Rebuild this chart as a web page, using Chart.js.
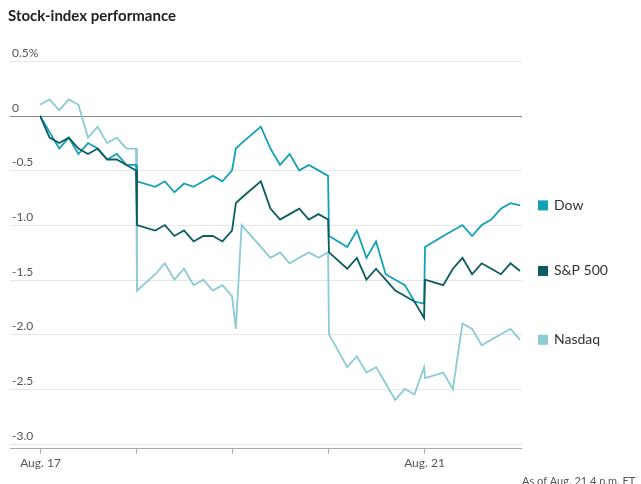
<!DOCTYPE html>
<html><head><meta charset="utf-8">
<script src="https://cdn.jsdelivr.net/npm/chart.js@4"></script>
<style>body{margin:0;background:#fff}canvas{display:block}</style>
</head><body>
<canvas id="c" width="641" height="484"></canvas>
<script>
// time in session units from Aug. 17 open (boundaries at 1, 2, 3, 4)
const times = [0,0.1,0.2,0.3,0.4,0.5,0.6,0.7,0.8,0.9,
  1.0,1.01,1.2,1.3,1.4,1.5,1.6,1.7,1.8,1.9,
  2.0,2.04,2.1,2.3,2.4,2.5,2.6,2.7,2.8,2.9,
  3.0,3.01,3.2,3.3,3.4,3.5,3.6,3.7,3.8,3.9,
  4.0,4.01,4.2,4.3,4.4,4.5,4.6,4.7,4.8,4.9,5.0];
const dow = [0,-0.15,-0.3,-0.2,-0.35,-0.25,-0.3,-0.4,-0.35,-0.45,
  -0.45,-0.6,-0.65,-0.6,-0.7,-0.62,-0.65,-0.6,-0.55,-0.6,
  -0.5,-0.3,-0.25,-0.1,-0.3,-0.45,-0.35,-0.5,-0.45,-0.5,
  -0.55,-1.1,-1.2,-1.05,-1.3,-1.15,-1.45,-1.5,-1.55,-1.7,
  -1.72,-1.2,-1.1,-1.05,-1.0,-1.1,-1.0,-0.95,-0.85,-0.8,-0.82];
const sp500 = [0,-0.2,-0.25,-0.2,-0.3,-0.35,-0.3,-0.4,-0.4,-0.45,
  -0.5,-1.0,-1.05,-1.0,-1.1,-1.05,-1.15,-1.1,-1.1,-1.15,
  -1.05,-0.8,-0.75,-0.6,-0.85,-0.95,-0.9,-0.85,-0.95,-0.9,
  -0.95,-1.25,-1.4,-1.3,-1.5,-1.4,-1.5,-1.6,-1.65,-1.7,
  -1.85,-1.5,-1.55,-1.4,-1.3,-1.45,-1.35,-1.4,-1.45,-1.35,-1.42];
const nasdaq = [0.1,0.15,0.05,0.15,0.1,-0.2,-0.1,-0.25,-0.2,-0.3,
  -0.3,-1.6,-1.45,-1.35,-1.5,-1.4,-1.55,-1.5,-1.6,-1.55,
  -1.65,-1.95,-1.0,-1.2,-1.3,-1.25,-1.35,-1.3,-1.25,-1.3,
  -1.25,-2.0,-2.3,-2.2,-2.35,-2.3,-2.45,-2.6,-2.5,-2.55,
  -2.3,-2.4,-2.35,-2.5,-1.9,-1.95,-2.1,-2.05,-2.0,-1.95,-2.05];
const yTicks = [0.5, 0, -0.5, -1.0, -1.5, -2.0, -2.5, -3.0];
const yLabels = ['0.5%', '0', '-0.5', '-1.0', '-1.5', '-2.0', '-2.5', '-3.0'];
const xTicks = [0, 1, 2, 3, 4];
const xLabels = ['Aug. 17', '', '', '', 'Aug. 21'];
const names = ['Dow', 'S&P 500', 'Nasdaq'];
const colors = ['#12a1b6', '#0b5c60', '#8ccad6'];

const font = '"Lato", "Noto Sans", sans-serif';

const decor = {
  id: 'decor',
  beforeDatasetsDraw(chart) {
    const { ctx, chartArea: a, scales: { x, y } } = chart;
    ctx.save();
    ctx.font = '12px ' + font;
    ctx.textBaseline = 'bottom';
    yTicks.forEach((v, i) => {
      const py = Math.round(y.getPixelForValue(v)) + 0.5;
      ctx.strokeStyle = v === 0 ? '#888' : '#e6e6e6';
      ctx.lineWidth = 1;
      ctx.beginPath(); ctx.moveTo(10, py); ctx.lineTo(a.right, py); ctx.stroke();
      ctx.fillStyle = '#555';
      ctx.fillText(yLabels[i], 12, py - 2);
    });
    // bottom axis
    const by = Math.round(a.bottom) + 0.5;
    ctx.strokeStyle = '#aaa';
    ctx.beginPath(); ctx.moveTo(10, by); ctx.lineTo(a.right, by); ctx.stroke();
    ctx.textBaseline = 'top';
    ctx.textAlign = 'center';
    xTicks.forEach((t, i) => {
      const px = Math.round(x.getPixelForValue(t)) + 0.5;
      ctx.beginPath(); ctx.moveTo(px, by); ctx.lineTo(px, by + 5); ctx.stroke();
      if (xLabels[i]) ctx.fillText(xLabels[i], px, by + 9);
    });
    ctx.restore();
  },
  afterDatasetsDraw(chart) {
    const { ctx, chartArea: a, scales: { y } } = chart;
    ctx.save();
    ctx.font = '14px ' + font;
    ctx.textBaseline = 'middle';
    series.forEach((arr, i) => {
      const py = y.getPixelForValue(arr[arr.length - 1]);
      ctx.fillStyle = colors[i];
      ctx.fillRect(a.right + 16, py - 5, 10, 10);
      ctx.fillStyle = '#333';
      ctx.fillText(names[i], a.right + 32, py);
    });
    ctx.font = 'bold 15px ' + font;
    ctx.textBaseline = 'top';
    ctx.fillStyle = '#222';
    ctx.fillText('Stock-index performance', 8, 9);
    ctx.font = '11px ' + font;
    ctx.fillStyle = '#555';
    ctx.fillText('As of Aug. 21 4 p.m. ET', 522, 476);
    ctx.restore();
  }
};

const series = [dow, sp500, nasdaq];
// draw order: Dow first (bottom), Nasdaq on top, S&P in between
const order = [0, 1, 2];
new Chart(document.getElementById('c'), {
  type: 'line',
  data: {
    datasets: order.map(i => ({
      label: names[i],
      data: series[i].map((v, k) => ({ x: times[k], y: v })),
      borderColor: colors[i],
      borderWidth: 1.8,
      pointRadius: 0,
      tension: 0,
      fill: false,
      order: i === 1 ? 0 : (i === 0 ? 1 : 2)
    }))
  },
  options: {
    responsive: false,
    animation: false,
    layout: { padding: { left: 40, right: 119, top: 48, bottom: 36 } },
    plugins: { legend: { display: false }, tooltip: { enabled: false } },
    scales: {
      x: { type: 'linear', min: 0, max: 5.02, display: false },
      y: { min: -3.04, max: 0.62, display: false }
    }
  },
  plugins: [decor]
});
</script>
</body></html>
